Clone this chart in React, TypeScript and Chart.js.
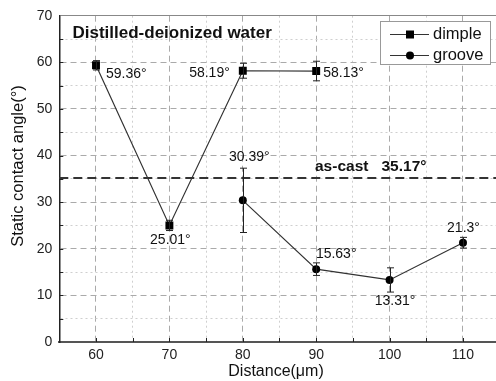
import React, { useEffect, useRef } from "react";
import { Chart, registerables } from "chart.js";

Chart.register(...registerables);

const dimpleX = [60, 70, 80, 90];
const dimpleY = [59.36, 25.01, 58.19, 58.13];
const dimpleErr = [1.0, 1.1, 1.6, 2.1];
const dimpleLabels = ["59.36°", "25.01°", "58.19°", "58.13°"];

const grooveX = [80, 90, 100, 110];
const grooveY = [30.39, 15.63, 13.31, 21.3];
const grooveErr = [6.9, 1.35, 2.6, 1.15];
const grooveLabels = ["30.39°", "15.63°", "13.31°", "21.3°"];

const asCastValue = 35.17;
const asCastText = "as-cast";
const asCastValueText = "35.17°";
const chartTitle = "Distilled-deionized water";
const xTitle = "Distance(μm)";
const yTitle = "Static contact angle(°)";
const seriesNames = ["dimple", "groove"];

const FONT = "'Liberation Sans', Arial, sans-serif";

// label placement (pixel offsets from the point, alignment)
const dimplePlace: [number, number, CanvasTextAlign][] = [
  [10, 9, "left"],
  [1, 15, "center"],
  [-13, 2, "right"],
  [7, 2, "left"],
];
const groovePlace: [number, number, CanvasTextAlign][] = [
  [6.5, -43, "center"],
  [20, -15, "center"],
  [5.5, 21, "center"],
  [0.5, -15, "center"],
];

const overlay = {
  id: "overlay",
  afterLayout(chart: any) {
    const ca = chart.chartArea;
    ca.right = chart.width + 2;
    ca.width = ca.right - ca.left;
    const sx = chart.scales.x;
    sx.right = chart.width + 2;
    sx.width = sx.right - sx.left;
    sx.configure();
  },
  beforeDatasetsDraw(chart: any) {
    const { ctx, chartArea, scales } = chart;
    const y = scales.y.getPixelForValue(asCastValue);
    ctx.save();
    ctx.strokeStyle = "#333";
    ctx.lineWidth = 2;
    ctx.setLineDash([9, 5]);
    ctx.beginPath();
    ctx.moveTo(chartArea.left, y);
    ctx.lineTo(chartArea.right, y);
    ctx.stroke();
    ctx.setLineDash([]);
    // inward tick marks
    ctx.strokeStyle = "#222";
    ctx.lineWidth = 1;
    for (let v = 5; v < 70; v += 5) {
      const py = Math.round(scales.y.getPixelForValue(v)) + 0.5;
      ctx.beginPath();
      ctx.moveTo(chartArea.left, py);
      ctx.lineTo(chartArea.left + 4, py);
      ctx.stroke();
    }
    for (let v = 60; v <= 110; v += 5) {
      const px = Math.round(scales.x.getPixelForValue(v)) + 0.5;
      ctx.beginPath();
      ctx.moveTo(px, chartArea.bottom);
      ctx.lineTo(px, chartArea.bottom - 4);
      ctx.stroke();
    }
    ctx.restore();
  },
  afterDatasetsDraw(chart: any) {
    const { ctx, scales } = chart;
    const sx = scales.x, sy = scales.y;
    ctx.save();
    ctx.strokeStyle = "#222";
    ctx.lineWidth = 1;
    const bars = (xs: number[], ys: number[], es: number[]) => {
      xs.forEach((xv, i) => {
        const px = Math.round(sx.getPixelForValue(xv)) + 0.5;
        const top = sy.getPixelForValue(ys[i] + es[i]);
        const bot = sy.getPixelForValue(ys[i] - es[i]);
        ctx.beginPath();
        ctx.moveTo(px, top);
        ctx.lineTo(px, bot);
        ctx.moveTo(px - 3.5, top);
        ctx.lineTo(px + 3.5, top);
        ctx.moveTo(px - 3.5, bot);
        ctx.lineTo(px + 3.5, bot);
        ctx.stroke();
      });
    };
    bars(dimpleX, dimpleY, dimpleErr);
    bars(grooveX, grooveY, grooveErr);

    ctx.fillStyle = "#111";
    ctx.font = `14px ${FONT}`;
    ctx.textBaseline = "middle";
    const labels = (xs: number[], ys: number[], ls: string[], pl: any[]) => {
      xs.forEach((xv, i) => {
        const px = sx.getPixelForValue(xv);
        const py = sy.getPixelForValue(ys[i]);
        ctx.textAlign = pl[i][2];
        ctx.fillText(ls[i], px + pl[i][0], py + pl[i][1]);
      });
    };
    labels(dimpleX, dimpleY, dimpleLabels, dimplePlace);
    labels(grooveX, grooveY, grooveLabels, groovePlace);
    ctx.restore();
  },
  afterDraw(chart: any) {
    const { ctx, scales } = chart;
    ctx.save();
    ctx.fillStyle = "#111";
    ctx.textBaseline = "middle";
    // title
    ctx.font = `bold 17px ${FONT}`;
    ctx.textAlign = "left";
    ctx.fillText(chartTitle, 72.5, 33);
    // as-cast
    const ay = scales.y.getPixelForValue(asCastValue);
    ctx.font = `bold 15.5px ${FONT}`;
    ctx.fillText(asCastText, 315, ay - 11);
    ctx.fillText(asCastValueText, 381.5, ay - 11);
    // axis titles
    ctx.font = `16px ${FONT}`;
    ctx.textAlign = "center";
    ctx.fillText(xTitle, 276, 372);
    ctx.save();
    ctx.translate(18, 166);
    ctx.rotate(-Math.PI / 2);
    ctx.font = `16.5px ${FONT}`;
    ctx.fillText(yTitle, 0, 0);
    ctx.restore();
    // legend
    ctx.fillStyle = "#fff";
    ctx.fillRect(380.5, 21.5, 110, 43);
    ctx.strokeStyle = "#999";
    ctx.lineWidth = 1;
    ctx.strokeRect(380.5, 21.5, 110, 43);
    const rows = [34.5, 55.5];
    rows.forEach((ry, i) => {
      ctx.strokeStyle = "#333";
      ctx.lineWidth = 1.2;
      ctx.beginPath();
      ctx.moveTo(390, ry);
      ctx.lineTo(429, ry);
      ctx.stroke();
      ctx.fillStyle = "#000";
      if (i === 0) {
        ctx.fillRect(406, ry - 4, 8, 8);
      } else {
        ctx.beginPath();
        ctx.arc(410, ry, 4, 0, Math.PI * 2);
        ctx.fill();
      }
      ctx.fillStyle = "#111";
      ctx.font = `16.5px ${FONT}`;
      ctx.textAlign = "left";
      ctx.fillText(seriesNames[i], 433, ry);
    });
    ctx.restore();
  },
};

export default function App() {
  const ref = useRef<HTMLCanvasElement>(null);
  useEffect(() => {
    const gridColor = (top: number | null) => (c: any) => {
      const v = c.tick?.value;
      if (v === undefined) return "#aaa";
      if (v === top) return "#888";
      if (v % 5 !== 0) return "rgba(0,0,0,0)";
      return v % 10 === 0 ? "#aaa" : "#cfcfcf";
    };
    const gridDash = (top: number | null) => (c: any) => {
      const v = c.tick?.value;
      if (v === undefined || v === top) return [];
      return v % 10 === 0 ? [6, 4] : [2, 3];
    };
    const chart = new Chart(ref.current!, {
      type: "line",
      data: {
        datasets: [
          {
            label: seriesNames[0],
            data: dimpleX.map((x, i) => ({ x, y: dimpleY[i] })),
            borderColor: "#333",
            borderWidth: 1.2,
            pointStyle: "rect",
            pointRadius: 5.6,
            pointBackgroundColor: "#000",
            pointBorderColor: "#000",
            pointBorderWidth: 0,
            tension: 0,
          },
          {
            label: seriesNames[1],
            data: grooveX.map((x, i) => ({ x, y: grooveY[i] })),
            borderColor: "#333",
            borderWidth: 1.2,
            pointStyle: "circle",
            pointRadius: 4,
            pointBackgroundColor: "#000",
            pointBorderColor: "#000",
            pointBorderWidth: 0,
            tension: 0,
          },
        ],
      },
      options: {
        responsive: false,
        animation: false,
        devicePixelRatio: 1,
        layout: { padding: { top: 15.7, left: 0, right: 0, bottom: 0 } },
        plugins: { legend: { display: false }, tooltip: { enabled: false } },
        scales: {
          x: {
            type: "linear",
            min: 55,
            max: 114.77,
            afterFit: (s: any) => {
              s.height = 39;
              s.paddingRight = 0;
              s.paddingLeft = 0;
            },
            ticks: {
              stepSize: 5,
              includeBounds: false,
              autoSkip: false,
              maxRotation: 0,
              padding: 5,
              color: "#222",
              font: { family: FONT, size: 14 },
              callback: (v: any) => (v % 10 === 0 ? String(v) : ""),
            },
            grid: { color: gridColor(null), lineWidth: 1, drawTicks: false },
            border: { color: "#555", width: 2, dash: gridDash(null) },
          },
          y: {
            type: "linear",
            min: 0,
            max: 70,
            afterFit: (s: any) => {
              s.width = 59.3;
            },
            ticks: {
              stepSize: 5,
              autoSkip: false,
              padding: 7,
              color: "#222",
              font: { family: FONT, size: 14 },
              callback: (v: any) => (v % 10 === 0 ? String(v) : ""),
            },
            grid: { color: gridColor(70), lineWidth: 1, drawTicks: false },
            border: { color: "#222", width: 1.5, dash: gridDash(70) },
          },
        },
      },
      plugins: [overlay],
    } as any);
    return () => chart.destroy();
  }, []);
  return (
    <div style={{ position: "fixed", left: 0, top: 0, width: 496, height: 381, background: "#fff" }}>
      <canvas ref={ref} width={496} height={381} />
    </div>
  );
}
